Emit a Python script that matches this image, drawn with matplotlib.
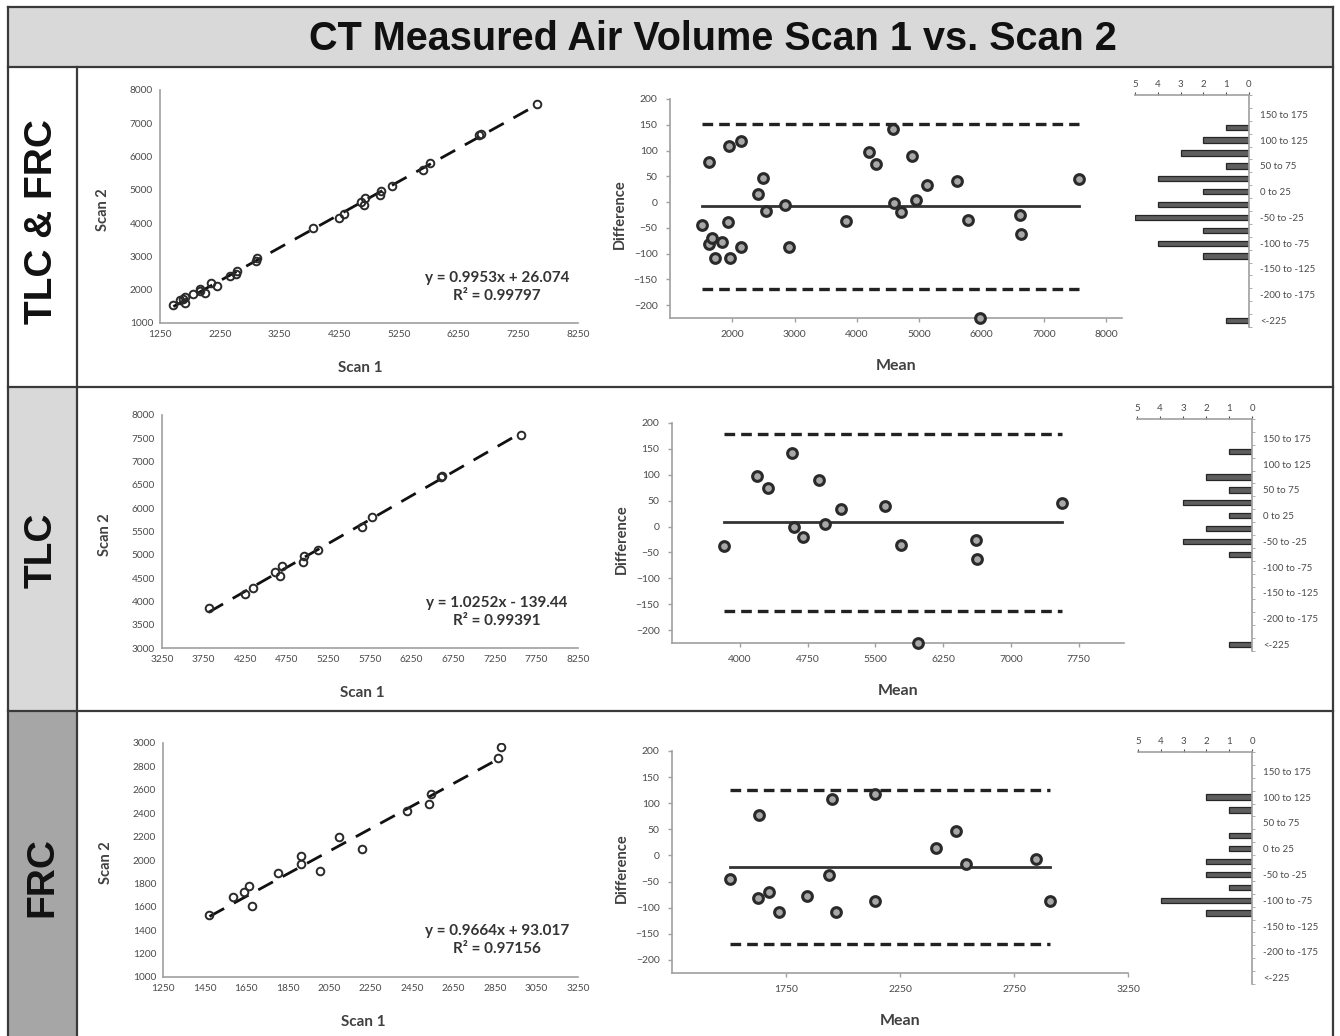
import matplotlib
matplotlib.use('Agg')
import matplotlib.pyplot as plt
from matplotlib.patches import Rectangle
from matplotlib.lines import Line2D
import numpy as np

W, H = 1340, 1036

# scatter panels: Scan 1 vs Scan 2
frc_scan1 = [1474, 1586, 1642, 1666, 1677, 1805, 1914, 1914, 2006, 2098, 2210, 2426, 2530, 2543, 2866, 2877]
frc_scan2 = [1533, 1681, 1723, 1780, 1604, 1885, 2035, 1965, 1908, 2197, 2098, 2418, 2481, 2560, 2872, 2963]
tlc_scan1 = [3810, 4250, 4338, 4610, 4670, 4690, 4942, 4958, 5130, 5650, 5770, 6600, 6620, 7570]
tlc_scan2 = [3857, 4164, 4286, 4629, 4536, 4750, 4843, 4964, 5107, 5607, 5821, 6660, 6690, 7571]

# Bland-Altman values (difference = Scan 1 - Scan 2)
frc_mean = [1506, 1633, 1626, 1677, 1721, 1840, 1937, 1951, 1969, 2140, 2140, 2407, 2497, 2541, 2848, 2906]
frc_diff = [-45, 77, -81, -69, -108, -78, -38, 108, -108, 118, -87, 15, 46, -17, -6, -88]
tlc_mean = [3821, 4190, 4310, 4572, 4600, 4700, 4875, 4940, 5115, 5610, 5782, 5975, 6608, 6623, 7560]
tlc_diff = [-37, 98, 74, 142, -1, -20, 90, 4, 33, 40, -35, -225, -26, -62, 45]

# trendlines as printed
fit_all = (0.9953, 26.074)
fit_tlc = (1.0252, -139.44)
fit_frc = (0.9664, 93.017)
eq_all = ["y = 0.9953x + 26.074", "R² = 0.99797"]
eq_tlc = ["y = 1.0252x - 139.44", "R² = 0.99391"]
eq_frc = ["y = 0.9664x + 93.017", "R² = 0.97156"]

# bias and limits of agreement (bias, upper, lower)
loa_all = (-7, 152, -168)
loa_tlc = (8.5, 178, -163)
loa_frc = (-22.5, 126, -170)

# histogram of differences, bins bottom -> top
bin_labels = ["<-225", "-225 to -200", "-200 to -175", "-175 to -150", "-150 to -125",
              "-125 to -100", "-100 to -75", "-75 to -50", "-50 to -25", "-25 to 0",
              "0 to 25", "25 to 50", "50 to 75", "75 to 100", "100 to 125",
              "125 to 150", "150 to 175", "175 to 200"]
counts_all = [1, 0, 0, 0, 0, 2, 4, 2, 5, 4, 2, 4, 1, 3, 2, 1, 0, 0]
counts_tlc = [1, 0, 0, 0, 0, 0, 0, 1, 3, 2, 1, 3, 1, 2, 0, 1, 0, 0]
counts_frc = [0, 0, 0, 0, 0, 2, 4, 1, 2, 2, 1, 1, 0, 1, 2, 0, 0, 0]

row_names = ["TLC & FRC", "TLC", "FRC"]

FONT = 'Lato'
TICK_C = '#4a4a4a'
AX_C = '#a0a0a0'


def fx(x):
    return x / W


def fy(y):
    return 1 - y / H


def add_ax(fig, l, t, r, b):
    ax = fig.add_axes([fx(l), fy(b), (r - l) / W, (b - t) / H])
    ax.set_facecolor('none')
    return ax


def rect(fig, l, t, r, b, color):
    fig.add_artist(Rectangle((fx(l), fy(b)), (r - l) / W, (b - t) / H,
                             transform=fig.transFigure, facecolor=color,
                             edgecolor='none', zorder=0))


def hline(fig, x0, x1, y, lw=1.6):
    fig.add_artist(Line2D([fx(x0), fx(x1)], [fy(y), fy(y)], transform=fig.transFigure,
                          color='#3a3a3a', lw=lw, zorder=1))


def vline(fig, x, y0, y1, lw=1.6):
    fig.add_artist(Line2D([fx(x), fx(x)], [fy(y0), fy(y1)], transform=fig.transFigure,
                          color='#3a3a3a', lw=lw, zorder=1))


def label(fig, x, y, s, rot=0, size=10):
    fig.text(fx(x), fy(y), s, ha='center', va='center', rotation=rot, fontsize=size,
             family=FONT, fontweight='bold', color='#404040')


def style_axes(ax):
    for side in ['top', 'right']:
        ax.spines[side].set_visible(False)
    for side in ['left', 'bottom']:
        ax.spines[side].set_color(AX_C)
        ax.spines[side].set_linewidth(1.2)


def scatter_panel(fig, box, scan1, scan2, fit, eq, xlim, xstep, ylim, ystep):
    l, t, r, b = box
    ax = add_ax(fig, l, t, r, b)
    scan1 = np.asarray(scan1, float)
    scan2 = np.asarray(scan2, float)
    xs = np.array([scan1.min(), scan1.max()])
    ax.plot(xs, fit[0] * xs + fit[1], color='#111', lw=2, dashes=(6, 4), zorder=2)
    ax.plot(scan1, scan2, 'o', ms=5.5, mfc='none', mec='#2a2a2a', mew=1.4, zorder=3)
    ax.set_xlim(*xlim)
    ax.set_ylim(*ylim)
    ax.set_xticks(np.arange(xlim[0], xlim[1] + 1, xstep))
    ax.set_yticks(np.arange(ylim[0], ylim[1] + 1, ystep))
    ax.tick_params(length=0, labelsize=7.3, colors=TICK_C, pad=5)
    for lab in ax.get_xticklabels() + ax.get_yticklabels():
        lab.set_family(FONT)
    style_axes(ax)
    ex = 497
    fig.text(fx(ex), fy(t + (b - t) * 0.805), eq[0], ha='center', va='center',
             fontsize=11, family=FONT, fontweight='bold', color='#333')
    fig.text(fx(ex), fy(t + (b - t) * 0.882), eq[1], ha='center', va='center',
             fontsize=11, family=FONT, fontweight='bold', color='#333')
    label(fig, l + 200, b + 45, "Scan 1", size=11)
    label(fig, l - 57, (t + b) / 2 + 3, "Scan 2", rot=90, size=10.5)


def ba_panel(fig, box, mean, diff, loa, xlim, xticks):
    l, t, r, b = box
    ax = add_ax(fig, l, t, r, b)
    x0, x1 = min(mean), max(mean)
    bias, up, lo = loa
    ax.plot([x0, x1], [up, up], color='#222', lw=2.4, dashes=(3.2, 1.8), zorder=2)
    ax.plot([x0, x1], [lo, lo], color='#222', lw=2.4, dashes=(3.2, 1.8), zorder=2)
    ax.plot([x0, x1], [bias, bias], color='#333', lw=2, zorder=2)
    ax.plot(mean, diff, 'o', ms=7, mfc='#a8a8a8', mec='#2a2a2a', mew=2.2, zorder=3,
            clip_on=False)
    ax.set_xlim(*xlim)
    ax.set_ylim(-225, 200)
    ax.set_xticks(xticks)
    ax.set_yticks(np.arange(-200, 201, 50))
    ax.tick_params(length=3, width=1, color=AX_C, labelsize=7.5, colors=TICK_C, pad=6)
    for lab in ax.get_xticklabels() + ax.get_yticklabels():
        lab.set_family(FONT)
    style_axes(ax)
    label(fig, (l + r) / 2, b + 48, "Mean", size=11.5)
    label(fig, l - 50, (t + b) / 2 + 6, "Difference", rot=90, size=10.5)


def hist_panel(fig, box, counts):
    l, t, r, b = box
    ax = add_ax(fig, l, t, r, b)
    idx = np.arange(len(bin_labels))
    ax.barh(idx, counts, height=0.42, color='#5e5e5e', edgecolor='#262626', lw=0.9)
    ax.set_xlim(5, 0)
    ax.set_ylim(-0.5, len(bin_labels) - 0.5)
    ax.xaxis.tick_top()
    ax.yaxis.tick_right()
    ax.set_xticks(range(6))
    ax.set_yticks(idx[::2])
    ax.set_yticklabels(bin_labels[::2])
    ax.set_yticks(np.arange(-0.5, len(bin_labels), 1), minor=True)
    ax.tick_params(axis='y', which='major', length=0, pad=8)
    ax.tick_params(axis='y', which='minor', length=2.5, color=AX_C)
    ax.tick_params(axis='x', length=2.5, color=AX_C, pad=2)
    ax.tick_params(labelsize=7, colors=TICK_C)
    for lab in ax.get_xticklabels() + ax.get_yticklabels():
        lab.set_family(FONT)
    for side in ['left', 'bottom']:
        ax.spines[side].set_visible(False)
    for side in ['top', 'right']:
        ax.spines[side].set_color(AX_C)
        ax.spines[side].set_linewidth(1.2)


fig = plt.figure(figsize=(W / 100, H / 100), dpi=100)

# table frame
rect(fig, 8, 7, 1333, 67, '#d9d9d9')
rect(fig, 8, 387, 77, 711, '#d9d9d9')
rect(fig, 8, 711, 77, 1045, '#a6a6a6')
hline(fig, 8, 1333, 7)
hline(fig, 8, 1333, 67)
hline(fig, 8, 1333, 387)
hline(fig, 8, 1333, 711)
vline(fig, 8, 7, 1040)
vline(fig, 1333, 7, 1040)
vline(fig, 77, 67, 1040)

fig.text(fx(713), fy(39), "CT Measured Air Volume Scan 1 vs. Scan 2", ha='center',
         va='center', fontsize=28.5, fontweight='bold', family='Liberation Sans', color='#111')
for name, yc in zip(row_names, [222, 550, 877]):
    fig.text(fx(42), fy(yc), name, ha='center', va='center', rotation=90, fontsize=28,
             fontweight='bold', family='Liberation Sans', color='#111')

# row 1: all subjects
scatter_panel(fig, (160, 90, 578, 323), frc_scan1 + tlc_scan1, frc_scan2 + tlc_scan2,
              fit_all, eq_all, (1250, 8250), 1000, (1000, 8000), 1000)
ba_panel(fig, (670, 99, 1122, 318), frc_mean + tlc_mean, frc_diff + tlc_diff, loa_all,
         (1000, 8250), np.arange(2000, 8001, 1000))
hist_panel(fig, (1135, 95, 1249, 327), counts_all)

# row 2: TLC
scatter_panel(fig, (162, 415, 578, 648), tlc_scan1, tlc_scan2, fit_tlc, eq_tlc,
              (3250, 8250), 500, (3000, 8000), 500)
ba_panel(fig, (672, 423, 1124, 643), tlc_mean, tlc_diff, loa_tlc,
         (3250, 8250), np.arange(4000, 7751, 750))
hist_panel(fig, (1137, 419, 1252, 651), counts_tlc)

# row 3: FRC
scatter_panel(fig, (163, 743, 578, 977), frc_scan1, frc_scan2, fit_frc, eq_frc,
              (1250, 3250), 200, (1000, 3000), 200)
ba_panel(fig, (672, 751, 1128, 973), frc_mean, frc_diff, loa_frc,
         (1250, 3250), np.arange(1750, 3251, 500))
hist_panel(fig, (1138, 752, 1252, 984), counts_frc)

fig.savefig('out.png', dpi=100)
